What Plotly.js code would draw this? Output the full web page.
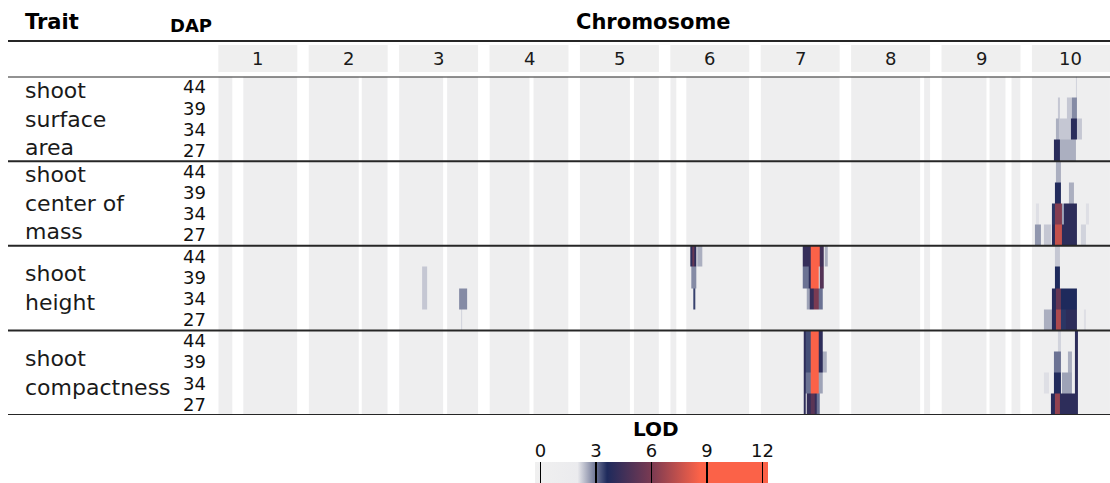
<!DOCTYPE html>
<html><head><meta charset="utf-8">
<script src="https://cdn.plot.ly/plotly-3.0.1.min.js"></script>
<style>html,body{margin:0;padding:0;background:#fff}#chart{width:1110px;height:483px}</style>
</head><body><div id="chart"></div>
<script>
// ---------------- data ----------------
const chromosomes = ['1','2','3','4','5','6','7','8','9','10'];
const chromLengthMb = [307, 244, 235, 247, 224, 174, 182, 181, 160, 150];
const traitLabels = ['shoot<br>surface<br>area', 'shoot<br>center of<br>mass', 'shoot<br>height', 'shoot<br>compactness'];
const dapLevels = [44, 39, 34, 27];
const backgroundLod = 0.5;
// marker-free stretches (Mb)
const gapChr  = [1,  2,   3,   4,   5,   6,  8,   9,  9];
const gapFrom = [53, 153, 130, 125, 143, 14, 158, 92, 130];
const gapTo   = [96, 163, 142, 137, 152, 36, 167, 98, 142];
// QTL signal: [traitIndex, DAP, fromMb, toMb, LOD]
const qtlChr3 = [
  [2,39, 67,82, 2.3],[2,34, 67,82, 2.3],[2,34, 178,201, 2.8],[2,27, 183,187, 2.2]
];
const qtlChr6 = [
  [2,44, 45,58, 4.0],[2,44, 49,53, 5.5],[2,44, 60,71, 2.5],[2,39, 47,58, 2.8],[2,34, 51,54, 3.4]
];
const qtlChr7 = [
  [2,44, 97,116, 4.2],[2,44, 116,137, 9.5],[2,44, 137,146, 4.5],[2,44, 148,155, 2.5],
  [2,39, 97,111, 3.0],[2,39, 111,116, 4.0],[2,39, 116,134, 8.8],[2,39, 137,144, 5.0],
  [2,34, 105,114, 2.6],[2,34, 114,121, 4.2],[2,34, 121,134, 6.0],[2,34, 134,143, 3.0],
  [3,44, 100,104, 4.0],[3,44, 104,116, 3.3],[3,44, 116,134, 9.5],[3,44, 134,142, 4.0],
  [3,39, 100,104, 4.0],[3,39, 104,116, 3.3],[3,39, 116,134, 9.5],[3,39, 134,142, 4.0],[3,39, 142,153, 2.5],
  [3,34, 100,104, 4.0],[3,34, 104,116, 3.0],[3,34, 116,134, 8.8],[3,34, 134,143, 2.6],
  [3,27, 100,104, 4.0],[3,27, 107,116, 4.2],[3,27, 116,125, 5.2],[3,27, 125,130, 4.2],[3,27, 130,137, 3.0]
];
const qtlChr10 = [
  [0,44, 84,86, 2.2],
  [0,39, 50,54, 2.3],[0,39, 68,77, 2.3],[0,39, 77,86, 2.8],
  [0,34, 46,52, 2.5],[0,34, 52,75, 2.3],[0,34, 75,86, 3.9],[0,34, 86,96, 2.3],
  [0,27, 42,53, 3.9],[0,27, 53,85, 2.5],
  [1,44, 46,56, 2.5],
  [1,39, 44,56, 3.7],[1,39, 71,80, 2.5],
  [1,34, 8,14, 2.1],[1,34, 39,44, 3.5],[1,34, 44,57, 6.2],[1,34, 57,61, 2.6],[1,34, 61,86, 4.0],[1,34, 103,109, 2.1],
  [1,27, 6,18, 2.7],[1,27, 23,37, 2.3],[1,27, 39,44, 3.8],[1,27, 44,57, 7.5],[1,27, 57,86, 4.0],[1,27, 95,103, 2.2],
  [2,44, 44,54, 2.3],
  [2,39, 44,54, 3.6],
  [2,34, 39,46, 3.8],[2,34, 46,56, 5.5],[2,34, 56,86, 3.6],
  [2,27, 23,39, 2.5],[2,27, 39,46, 3.8],[2,27, 46,56, 7.0],[2,27, 56,65, 3.5],[2,27, 65,86, 4.0],[2,27, 99,103, 2.1],
  [3,44, 50,56, 2.2],[3,44, 82,88, 4.0],
  [3,39, 42,56, 3.0],[3,39, 69,77, 2.5],[3,39, 82,88, 4.0],
  [3,34, 23,33, 2.1],[3,34, 42,56, 3.7],[3,34, 57,77, 2.6],[3,34, 82,88, 4.0],
  [3,27, 37,44, 3.8],[3,27, 44,54, 6.5],[3,27, 54,82, 4.0],[3,27, 82,88, 4.0]
];
const qtlByChr = {3: qtlChr3, 6: qtlChr6, 7: qtlChr7, 10: qtlChr10};
const lodTicks = [0, 3, 6, 9, 12];
const lodRange = [-0.3, 12.3];

// ---------------- geometry / style ----------------
const W = 1110, H = 483;
const FONT = 'DejaVu Sans';
const panelLeft0 = 218.3, panelPitch = 90.4, panelWidth = 79;
const plotTop = 76.5, plotBottom = 415;
const nRows = traitLabels.length * dapLevels.length;
const px = v => v / W, py = v => 1 - v / H;

const lo = lodRange[0], span = lodRange[1] - lodRange[0];
const nz = v => (v - lo) / span;
const colorscale = [
  [0, '#f0f0f0'], [nz(2.0), '#ebebee'], [nz(3.6), '#1e2a5c'],
  [nz(6.0), '#7a3a52'], [nz(8.6), '#fb6248'], [1, '#fb6248']
];

function buildPanel(ci) {
  const chr = ci + 1, L = chromLengthMb[ci];
  const gaps = [];
  gapChr.forEach((c, k) => { if (c === chr) gaps.push([gapFrom[k], gapTo[k]]); });
  const qtl = qtlByChr[chr] || [];
  let pts = [0, L];
  gaps.forEach(g => pts.push(g[0], g[1]));
  qtl.forEach(q => pts.push(q[2], q[3]));
  pts = Array.from(new Set(pts.filter(p => p >= 0 && p <= L))).sort((a, b) => a - b);
  const z = [];
  for (let r = 0; r < nRows; r++) z.push([]);
  for (let j = 0; j < pts.length - 1; j++) {
    const mid = (pts[j] + pts[j + 1]) / 2;
    const inGap = gaps.some(g => mid > g[0] && mid < g[1]);
    for (let r = 0; r < nRows; r++) z[r].push(inGap ? null : backgroundLod);
    if (inGap) continue;
    qtl.forEach(q => {
      if (mid > q[2] && mid < q[3]) {
        const r = q[0] * dapLevels.length + dapLevels.indexOf(q[1]);
        z[r][j] = Math.max(z[r][j], q[4]);
      }
    });
  }
  return {x: pts, z: z};
}

const traces = [];
const layout = {
  width: W, height: H,
  margin: {l: 0, r: 0, t: 0, b: 0, pad: 0, autoexpand: false},
  paper_bgcolor: '#fff', plot_bgcolor: 'rgba(0,0,0,0)',
  font: {family: FONT, color: '#1a1a1a'},
  showlegend: false,
  shapes: [], annotations: [],
  yaxis: {
    domain: [py(plotBottom), py(plotTop)],
    range: [nRows - 0.5, -0.5],
    anchor: 'free', position: px(206),
    tickmode: 'array',
    tickvals: Array.from({length: nRows}, (_, r) => r),
    ticktext: Array.from({length: nRows}, (_, r) => String(dapLevels[r % dapLevels.length])),
    ticks: '', showgrid: false, zeroline: false, showline: false,
    tickfont: {size: 18, color: '#111', family: FONT}
  }
};

chromosomes.forEach((chr, ci) => {
  const ax = ci === 0 ? 'x' : 'x' + (ci + 1);
  const axKey = ci === 0 ? 'xaxis' : 'xaxis' + (ci + 1);
  const left = panelLeft0 + ci * panelPitch;
  layout[axKey] = {
    domain: [px(left), Math.min(1, px(left + panelWidth))],
    range: [0, chromLengthMb[ci]], anchor: 'y', visible: false,
    showgrid: false, zeroline: false, fixedrange: true
  };
  const p = buildPanel(ci);
  const tr = {
    type: 'heatmap', x: p.x, y: Array.from({length: nRows}, (_, r) => r), z: p.z,
    xaxis: ax, yaxis: 'y', colorscale: colorscale, zmin: lodRange[0], zmax: lodRange[1],
    zsmooth: false, hoverinfo: 'skip', showscale: ci === 0, xgap: 0, ygap: 0
  };
  if (ci === 0) {
    tr.colorbar = {
      orientation: 'h', x: px(535), xanchor: 'left', y: -21 / H, yanchor: 'bottom',
      len: 233, lenmode: 'pixels', thickness: 21, thicknessmode: 'pixels',
      xpad: 0, ypad: 0, outlinewidth: 0, bgcolor: 'rgba(0,0,0,0)',
      tickmode: 'array', tickvals: lodTicks, ticks: 'inside', ticklen: 21,
      tickwidth: 1.5, tickcolor: '#000', showticklabels: false
    };
  }
  traces.push(tr);
  // strip
  layout.shapes.push({type: 'rect', xref: ax + ' domain', yref: 'paper', x0: 0, x1: 1,
    y0: py(72), y1: py(45), fillcolor: '#efefef', line: {width: 0}, layer: 'below'});
  layout.annotations.push({xref: ax + ' domain', yref: 'paper', x: 0.5, y: py(58.5),
    text: chr, showarrow: false, font: {size: 18, color: '#1a1a1a'}, xanchor: 'center', yanchor: 'middle'});
});

// legend axis (tick labels of the LOD colour bar)
layout.xaxis11 = {
  domain: [px(535), px(768)], range: lodRange, anchor: 'y2', side: 'top',
  tickmode: 'array', tickvals: lodTicks, ticks: '', showgrid: false, zeroline: false, showline: false,
  tickfont: {size: 18, color: '#111', family: FONT}, fixedrange: true
};
layout.yaxis2 = {domain: [0, py(462)], range: [0, 1], anchor: 'x11', visible: false, fixedrange: true};
traces.push({type: 'scatter', x: [lodTicks[0]], y: [0], xaxis: 'x11', yaxis: 'y2', mode: 'markers',
  marker: {opacity: 0, size: 1}, hoverinfo: 'skip'});
layout.annotations.push({xref: 'x11 domain', yref: 'paper', x: 0.52, y: py(429), text: '<b>LOD</b>',
  xanchor: 'center', yanchor: 'middle', showarrow: false, font: {size: 20, color: '#000'}});

// rules
const lineStyle = {color: '#262626', width: 2};
layout.shapes.push({type: 'line', xref: 'paper', yref: 'paper', x0: px(8), x1: 1, y0: py(41), y1: py(41), line: lineStyle});
for (let b = 0; b <= traitLabels.length; b++) {
  const yv = b * dapLevels.length - 0.5;
  layout.shapes.push({type: 'line', xref: 'paper', yref: 'y', x0: px(8), x1: 1, y0: yv, y1: yv, line: lineStyle});
}
// trait labels
traitLabels.forEach((t, i) => {
  layout.annotations.push({xref: 'paper', yref: 'y', x: px(23), y: i * dapLevels.length + (dapLevels.length - 1) / 2,
    text: t, align: 'left', xanchor: 'left', yanchor: 'middle', showarrow: false,
    font: {size: 22, color: '#1a1a1a'}});
});
// headers
layout.annotations.push({xref: 'paper', yref: 'paper', x: px(23), y: py(22), text: '<b>Trait</b>',
  xanchor: 'left', yanchor: 'middle', showarrow: false, font: {size: 21, color: '#000'}});
layout.annotations.push({xref: 'paper', yref: 'paper', x: px(191.5), y: py(26), text: '<b>DAP</b>',
  xanchor: 'center', yanchor: 'middle', showarrow: false, font: {size: 18, color: '#000'}});
layout.annotations.push({xref: 'paper', yref: 'paper', x: px(653), y: py(22), text: '<b>Chromosome</b>',
  xanchor: 'center', yanchor: 'middle', showarrow: false, font: {size: 21, color: '#000'}});

Plotly.newPlot('chart', traces, layout, {staticPlot: true, displayModeBar: false});
</script>
</body></html>
